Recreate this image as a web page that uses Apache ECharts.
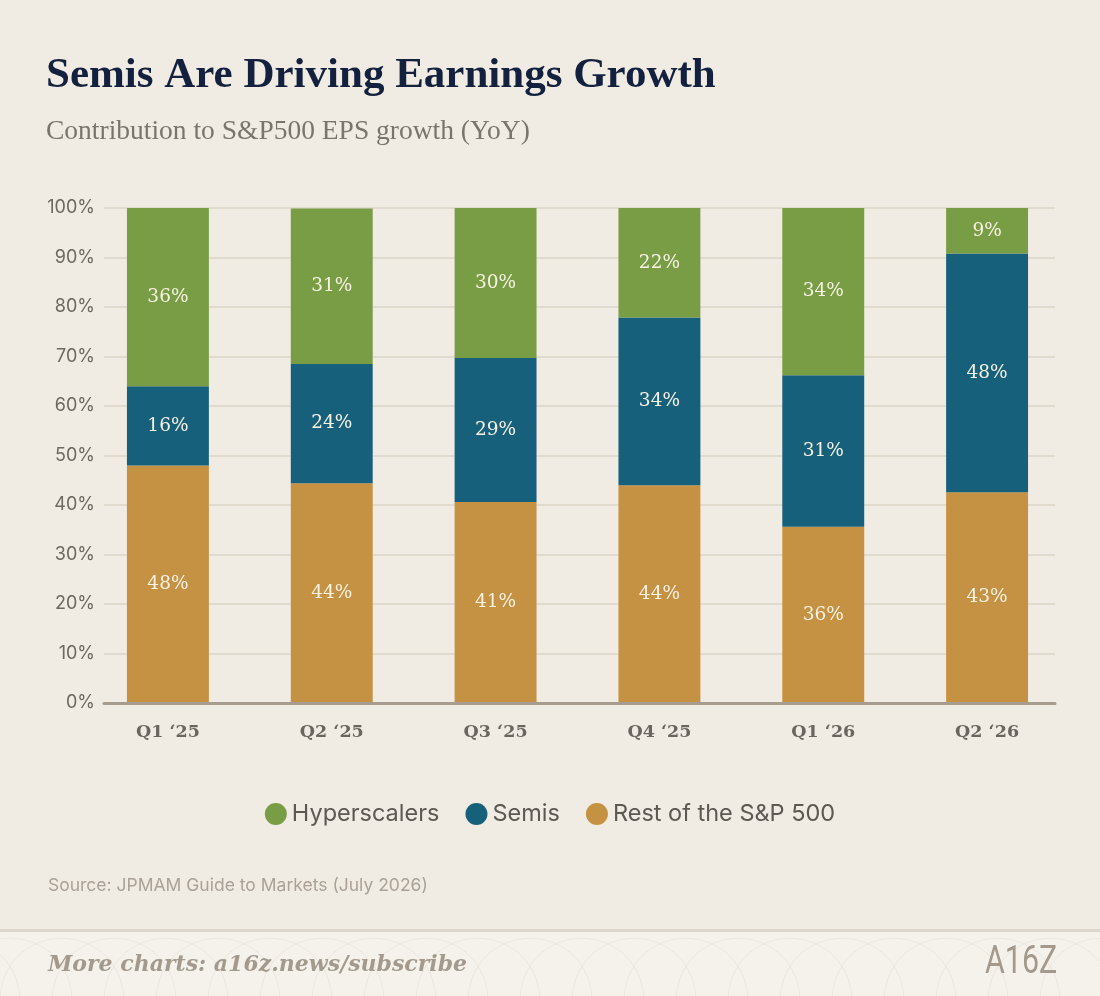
<!DOCTYPE html>
<html>
<head>
<meta charset="utf-8">
<script src="https://cdn.jsdelivr.net/npm/echarts@6/dist/echarts.min.js"></script>
<style>
  html, body { margin: 0; padding: 0; background: #f0ebe3; }
  #chart { width: 1100px; height: 996px; }
</style>
</head>
<body>
<div id="chart"></div>
<script>
// 数据
const categories = ['Q1 ‘25', 'Q2 ‘25', 'Q3 ‘25', 'Q4 ‘25', 'Q1 ‘26', 'Q2 ‘26']
const restOfSP = [48.0, 44.4, 40.6, 44.0, 35.6, 42.6]
const semis = [16.0, 24.1, 29.1, 33.9, 30.6, 48.2]
const hyperscalers = [36.0, 31.4, 30.3, 22.1, 33.8, 9.2]
const legendNames = ['Hyperscalers', 'Semis', 'Rest of the S&P 500']

const myChart = echarts.init(document.querySelector('#chart'))

// 底部装饰 (弧线花纹)
const footerArcs = []
for (let i = -1; i < 22; i++) {
  footerArcs.push({
    type: 'arc',
    z: 1,
    silent: true,
    shape: { cx: i * 52 + 10, cy: 1000, r: 62, startAngle: Math.PI, endAngle: Math.PI * 2 },
    style: { stroke: '#ebe7df', fill: null, lineWidth: 1 }
  })
}

const segLabel = {
  show: true,
  position: 'inside',
  fontFamily: 'DejaVu Serif',
  fontSize: 18.5,
  color: '#f8f2e4',
  formatter: p => Math.round(p.value) + '%'
}

const option = {
  backgroundColor: '#f0ebe3',
  animation: false,
  title: [
    {
      text: 'Semis Are Driving Earnings Growth',
      left: 46,
      top: 54,
      padding: 0,
      textStyle: { fontFamily: 'Liberation Serif', fontWeight: 'bold', fontSize: 43, color: '#13213f' }
    },
    {
      text: 'Contribution to S&P500 EPS growth (YoY)',
      left: 46,
      top: 118,
      padding: 0,
      textStyle: { fontFamily: 'Liberation Serif', fontWeight: 'normal', fontSize: 27.5, color: '#7a746c' }
    },
    {
      text: 'Source: JPMAM Guide to Markets (July 2026)',
      left: 48,
      top: 877,
      padding: 0,
      textStyle: { fontFamily: 'Inter', fontWeight: 'normal', fontSize: 17.5, color: '#aaa298' }
    }
  ],
  legend: {
    data: legendNames,
    top: 797,
    left: 'center',
    icon: 'circle',
    itemWidth: 22,
    itemHeight: 22,
    itemGap: 26,
    textStyle: { fontFamily: 'Inter', fontSize: 23.5, color: '#5c5852' }
  },
  grid: [
    { left: 104, right: 45, top: 208, bottom: 293 },
    { left: 86, right: 31, top: 208, bottom: 293 }
  ],
  xAxis: [
    {
      // 只用来画底部坐标轴线
      gridIndex: 0,
      type: 'value',
      min: 0,
      max: 1,
      z: 5,
      axisLine: { show: true, lineStyle: { color: '#a69c90', width: 3 } },
      axisTick: { show: false },
      axisLabel: { show: false },
      splitLine: { show: false }
    },
    {
      gridIndex: 1,
      type: 'category',
      data: categories,
      axisLine: { show: false },
      axisTick: { show: false },
      axisLabel: {
        margin: 20,
        fontFamily: 'DejaVu Serif',
        fontWeight: 'bold',
        fontSize: 17.5,
        color: '#6a655f'
      }
    }
  ],
  yAxis: [
    {
      gridIndex: 0,
      type: 'value',
      min: 0,
      max: 100,
      interval: 10,
      axisLine: { show: false },
      axisTick: { show: false },
      axisLabel: {
        formatter: '{value}%',
        margin: 9,
        fontFamily: 'Inter',
        fontSize: 18,
        color: '#6e6860'
      },
      splitLine: { lineStyle: { color: '#ddd5c8', width: 1.5 } }
    },
    {
      gridIndex: 1,
      type: 'value',
      min: 0,
      max: 100,
      show: false
    }
  ],
  color: ['#c59142', '#17607b', '#789d44'],
  series: [
    {
      name: 'Rest of the S&P 500',
      type: 'bar',
      stack: 'total',
      xAxisIndex: 1,
      yAxisIndex: 1,
      barWidth: '50%',
      itemStyle: { color: '#c59142' },
      label: segLabel,
      data: restOfSP
    },
    {
      name: 'Semis',
      type: 'bar',
      stack: 'total',
      xAxisIndex: 1,
      yAxisIndex: 1,
      barWidth: '50%',
      itemStyle: { color: '#17607b' },
      label: segLabel,
      data: semis
    },
    {
      name: 'Hyperscalers',
      type: 'bar',
      stack: 'total',
      xAxisIndex: 1,
      yAxisIndex: 1,
      barWidth: '50%',
      itemStyle: { color: '#789d44' },
      label: segLabel,
      data: hyperscalers
    }
  ],
  graphic: [
    {
      type: 'rect',
      z: 0,
      silent: true,
      shape: { x: 0, y: 931, width: 1100, height: 65 },
      style: { fill: '#f5f2ec' }
    },
    {
      type: 'rect',
      z: 2,
      silent: true,
      shape: { x: 0, y: 929, width: 1100, height: 3 },
      style: { fill: '#dcd6cb' }
    },
    ...footerArcs,
    {
      type: 'text',
      z: 3,
      x: 48,
      y: 954,
      style: {
        text: 'More charts: a16z.news/subscribe',
        font: 'italic bold 22px "DejaVu Serif"',
        fill: '#a39a8d'
      }
    },
    {
      type: 'text',
      z: 3,
      x: 985,
      y: 944,
      scaleX: 0.8,
      style: {
        text: 'A16Z',
        font: '400 38px Roboto',
        fill: '#a39a8d'
      }
    }
  ]
}
myChart.setOption(option)
</script>
</body>
</html>
